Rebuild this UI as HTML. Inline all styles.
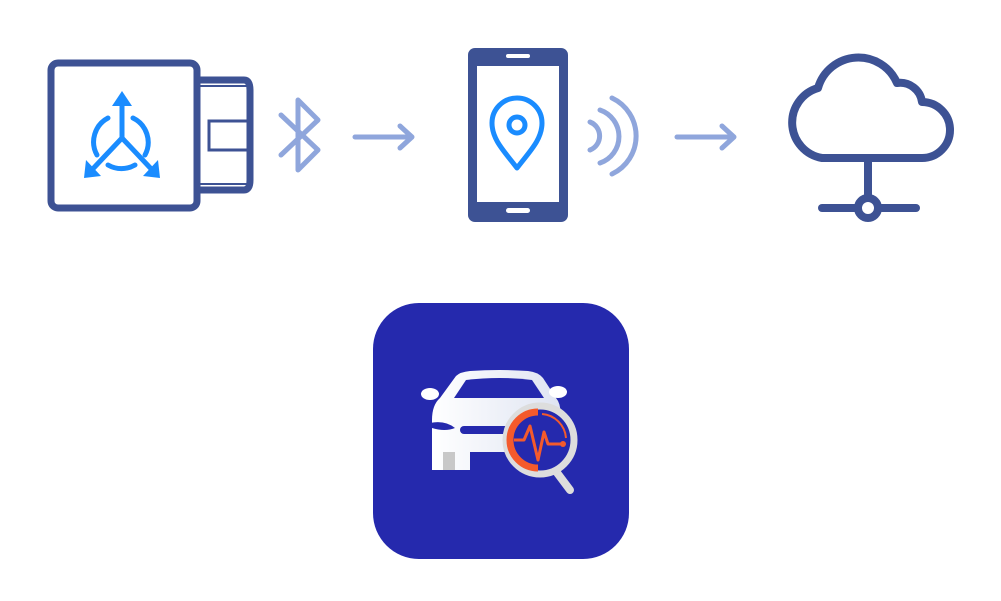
<!DOCTYPE html>
<html><head><style>html,body{margin:0;padding:0;background:#fff;width:1001px;height:601px;overflow:hidden}</style></head>
<body>
<svg width="1001" height="601" viewBox="0 0 1001 601" xmlns="http://www.w3.org/2000/svg">
<defs>
<linearGradient id="car" x1="0" x2="1" y1="0" y2="0"><stop offset="0" stop-color="#ffffff"/><stop offset="1" stop-color="#dfe4f2"/></linearGradient>
</defs>
<!-- OBD device -->
<g fill="none" stroke="#3d5294" stroke-width="7" stroke-linejoin="round">
<path d="M198 80 H244 Q250 80 250 90 V180 Q250 190 244 190 H198"/>
<rect x="51" y="63" width="146" height="145" rx="7"/>
</g>
<line x1="200" y1="86" x2="248" y2="86" stroke="#3d5294" stroke-width="2"/>
<line x1="200" y1="184" x2="248" y2="184" stroke="#3d5294" stroke-width="2"/>
<rect x="209" y="121" width="40" height="29" fill="none" stroke="#3d5294" stroke-width="3"/>
<!-- tri-arrow icon -->
<g stroke="#1a8cff" stroke-width="5" fill="none" stroke-linecap="round">
<path d="M108 118 A27 27 0 0 0 97 155"/>
<path d="M133 118 A27 27 0 0 1 145 155"/>
<path d="M108 165 A27 27 0 0 0 135 165"/>
<line x1="122" y1="138" x2="122" y2="96"/>
<line x1="122" y1="138" x2="88" y2="174"/>
<line x1="122" y1="138" x2="156" y2="174"/>
</g>
<g fill="#1a8cff">
<polygon points="122,91 112,106 132,106"/>
<polygon points="84,178 86,160 101,176"/>
<polygon points="160,178 158,160 143,176"/>
</g>
<!-- bluetooth -->
<path d="M281 115 L318 150 L298 170 V100 L318 120 L281 155" fill="none" stroke="#8fa6dc" stroke-width="5" stroke-linecap="round" stroke-linejoin="round"/>
<!-- arrows -->
<g stroke="#8fa6dc" stroke-width="5" fill="none" stroke-linecap="round" stroke-linejoin="round">
<line x1="355" y1="137" x2="411" y2="137"/><path d="M400 126 L412 137 L400 148"/>
<line x1="677" y1="137" x2="733" y2="137"/><path d="M722 126 L734 137 L722 148"/>
</g>
<!-- phone -->
<rect x="468" y="48" width="100" height="174" rx="7" fill="#3d5294"/>
<rect x="477" y="66" width="82" height="136" fill="#fff"/>
<rect x="506" y="54" width="24" height="4" rx="2" fill="#fff"/>
<rect x="506" y="208" width="24" height="5" rx="2.5" fill="#fff"/>
<path d="M517 168 C505 152 492 140 492 123 A25 25 0 0 1 542 123 C542 140 529 152 517 168 Z" fill="none" stroke="#1a8cff" stroke-width="5" stroke-linejoin="round"/>
<circle cx="517" cy="125" r="8" fill="none" stroke="#1a8cff" stroke-width="5"/>
<!-- waves -->
<g fill="none" stroke="#8fa6dc" stroke-width="5" stroke-linecap="round">
<path d="M590 122 A15 15 0 0 1 590 150"/>
<path d="M600 110 A28 28 0 0 1 600 163"/>
<path d="M612 98 A42 42 0 0 1 612 174"/>
</g>
<!-- cloud -->
<path d="M822 158 H922 A28 28 0 0 0 922 102 A22 22 0 0 0 897 83 A42 42 0 0 0 818 88 A36 36 0 0 0 822 158 Z" fill="none" stroke="#3d5294" stroke-width="8" stroke-linejoin="round"/>
<g stroke="#3d5294" stroke-width="8" stroke-linecap="round" fill="none">
<line x1="868" y1="160" x2="868" y2="198"/>
<line x1="822" y1="208" x2="856" y2="208"/>
<line x1="880" y1="208" x2="916" y2="208"/>
<circle cx="868" cy="208" r="10"/>
</g>
<!-- app icon -->
<rect x="373" y="303" width="256" height="256" rx="46" fill="#2529ad"/>
<path d="M432 470 V420 Q432 405 440 398 L456 376 Q460 372 470 371 Q500 369 528 371 Q538 372 543 378 L556 398 Q562 405 560 420 L540 452 H470 V470 Z" fill="url(#car)"/>
<path d="M454 398 L466 380 Q500 376 532 380 L544 398 Z" fill="#2529ad"/>
<ellipse cx="430" cy="394" rx="9" ry="6" fill="#fff"/>
<ellipse cx="558" cy="392" rx="9" ry="6" fill="#fff"/>
<path d="M430 423 Q445 420 455 428 Q445 432 432 428 Z" fill="#2529ad"/>
<rect x="460" y="426" width="60" height="8" rx="4" fill="#2529ad"/>
<rect x="443" y="452" width="12" height="18" fill="#c8c8c8"/>
<line x1="555" y1="470" x2="570" y2="490" stroke="#ddd" stroke-width="8" stroke-linecap="round"/>
<circle cx="540" cy="440" r="34" fill="#2529ad" stroke="#ddd" stroke-width="7"/>
<path d="M538 412 A28 28 0 0 0 538 468" fill="none" stroke="#f45a2c" stroke-width="7"/>
<path d="M542 414 A26 26 0 0 1 566 438" fill="none" stroke="#f45a2c" stroke-width="2"/>
<polyline points="514,440 524,440 530,426 538,460 544,432 548,444 562,444" fill="none" stroke="#f45a2c" stroke-width="3" stroke-linejoin="round"/>
<circle cx="563" cy="444" r="3" fill="#f45a2c"/>
</svg>
</body></html>
